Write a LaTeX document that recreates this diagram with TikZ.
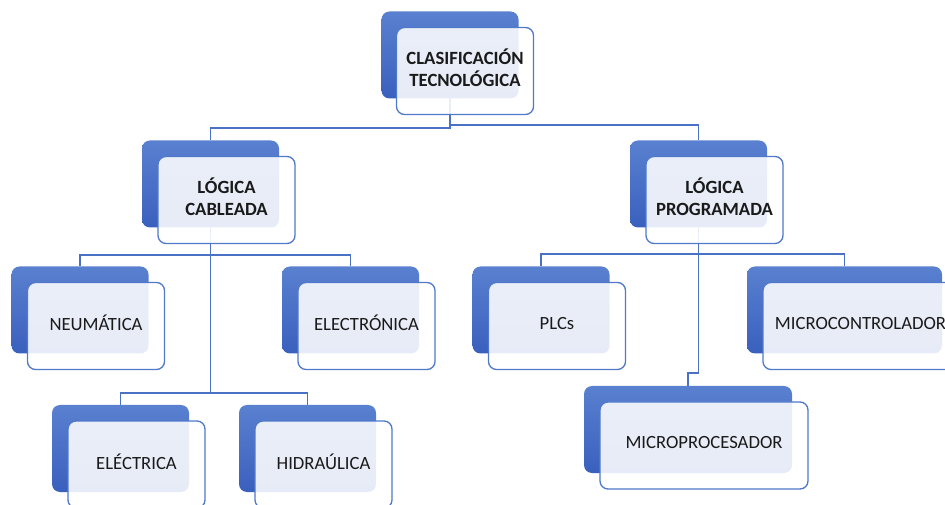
\documentclass[tikz,border=0pt]{standalone}
\usepackage{fontspec}
\setmainfont{Carlito}
\usetikzlibrary{backgrounds}
\definecolor{backtop}{HTML}{5A80D0}
\definecolor{backbot}{HTML}{3A60BE}
\definecolor{rimblue}{HTML}{5079C9}
\definecolor{linkblue}{HTML}{4A72C4}
\definecolor{inktext}{HTML}{1A1A1A}

\begin{document}
\begin{tikzpicture}[x=0.75pt,y=-0.75pt,
    backbox/.style={rounded corners=6pt,inner sep=0pt,minimum height=65.25pt,
        minimum width=#1*0.75pt,top color=backtop,bottom color=backbot},
    backbox/.default=137,
    frontbox/.style={rounded corners=6pt,inner sep=0pt,minimum height=65.25pt,
        minimum width=#1*0.75pt,draw=rimblue,line width=1pt,fill=white,
        fill opacity=0.88,text opacity=1,text=inktext,align=center,
        font=\fontsize{14}{16.5}\selectfont,
        execute at end node={\rule[-4.5pt]{0pt}{0pt}}},
    frontbox/.default=137,
    link/.style={draw=linkblue,line width=1.1pt}]
            \clip (0,0) rectangle (945,505);
            % level 0
            \node [backbox] (clasB) at (450,55) {};
            \node [frontbox] (clasF) at (465,71) {\textbf{CLASIFICACIÓN}\\\textbf{TECNOLÓGICA}};
            % level 1
            \node [backbox] (cabB) at (210.5,184) {};
            \node [frontbox] (cabF) at (226.5,200) {\textbf{LÓGICA}\\\textbf{CABLEADA}};
            \node [backbox] (progB) at (698.5,184) {};
            \node [frontbox] (progF) at (714.5,200) {\textbf{LÓGICA}\\\textbf{PROGRAMADA}};
            % level 2, wired logic
            \node [backbox] (neuB) at (80,310) {};
            \node [frontbox] (neuF) at (96,326) {NEUMÁTICA};
            \node [backbox] (eltrB) at (350.5,310) {};
            \node [frontbox] (eltrF) at (366.5,326) {ELECTRÓNICA};
            \node [backbox] (elecB) at (120.5,448.5) {};
            \node [frontbox] (elecF) at (136.5,464.5) {ELÉCTRICA};
            \node [backbox] (hidB) at (307.5,448.5) {};
            \node [frontbox] (hidF) at (323.5,464.5) {HIDRAÚLICA};
            % level 2, programmed logic
            \node [backbox] (plcB) at (541,310) {};
            \node [frontbox] (plcF) at (557,326) {PLCs};
            \node [backbox=195] (mcuB) at (844.5,310) {};
            \node [frontbox=195] (mcuF) at (860.5,326) {MICROCONTROLADOR};
            \node [backbox=208] (mpuB) at (688,429.5) {};
            \node [frontbox=208] (mpuF) at (704,445.5) {MICROPROCESADOR};
            % connectors
            \begin{scope}[on background layer]
            \draw [link] (clasB.center) -- ++(0,73) -| (cabB.north);
            \draw [link] (clasB.center) -- ++(0,70) -| (progB.north);
            \draw [link] (cabB.center) -- ++(0,71) -| (neuB.north);
            \draw [link] (cabB.center) -- ++(0,71) -| (eltrB.north);
            \draw [link] (cabB.center) -- ++(0,209) -| (elecB.north);
            \draw [link] (cabB.center) -- ++(0,209) -| (hidB.north);
            \draw [link] (progB.center) -- ++(0,70) -| (plcB.north);
            \draw [link] (progB.center) -- ++(0,70) -| (mcuB.north);
            \draw [link] (progB.center) -- ++(0,189) -| (mpuB.north);
            \end{scope}
        \end{tikzpicture}
\end{document}
